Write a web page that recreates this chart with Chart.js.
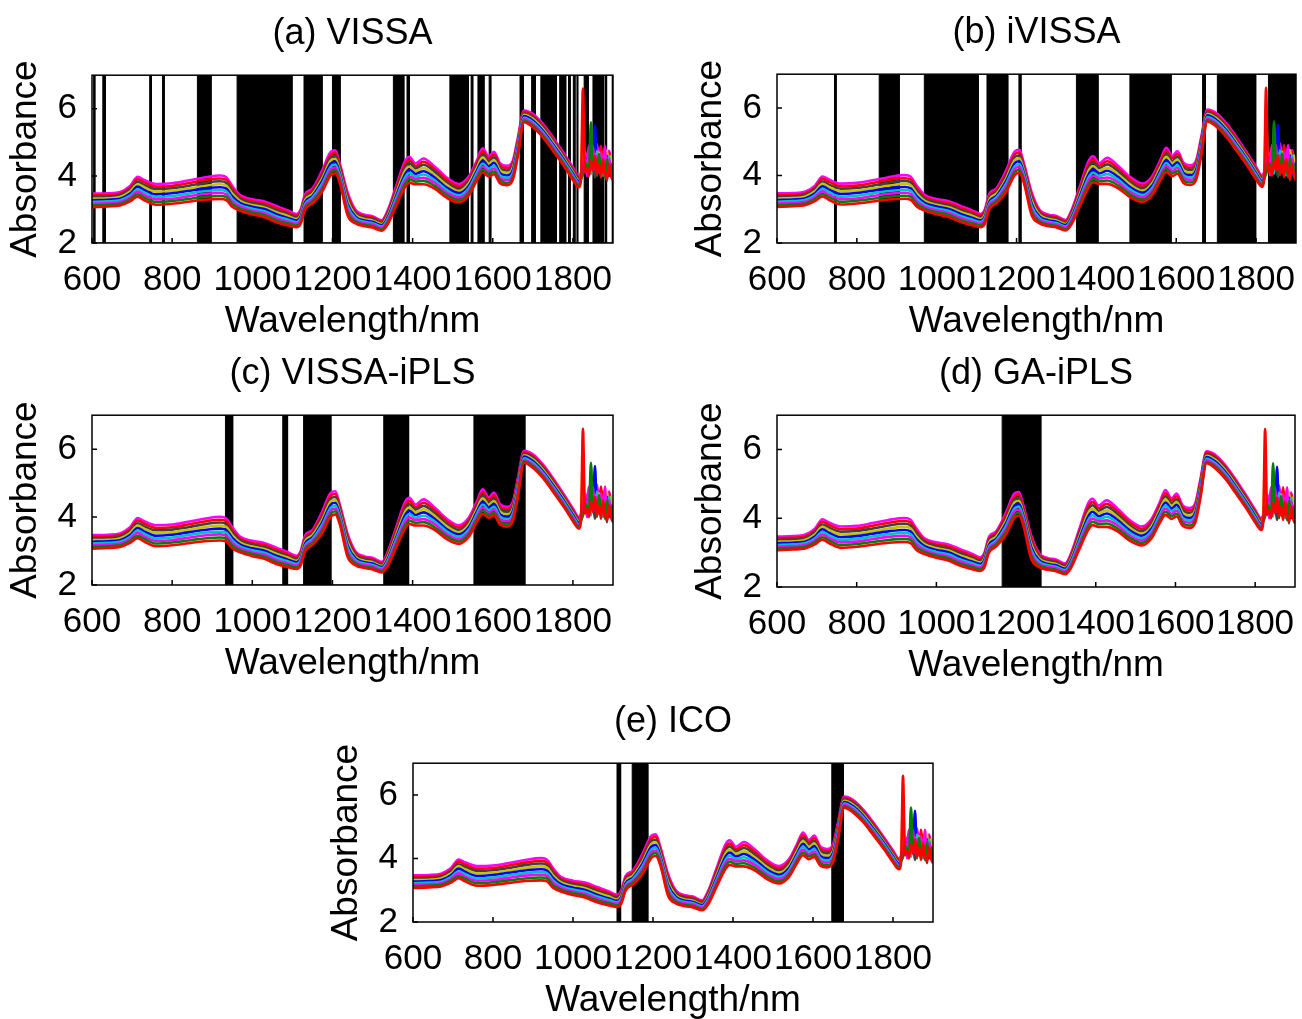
<!DOCTYPE html>
<html>
<head>
<meta charset="utf-8">
<script src="https://cdn.jsdelivr.net/npm/chart.js@4.4.1/dist/chart.umd.min.js"></script>
<style>
html, body { margin: 0; padding: 0; background: #fff; overflow: hidden; width: 1302px; height: 1019px; }
canvas { position: absolute; }
</style>
</head>
<body>
<script>
// wavelengths (nm) shared by all spectra
var wavelengths = [600, 640, 670, 695, 714, 730, 760, 800, 840, 880,
  920, 935, 950, 970, 1000, 1030, 1060, 1090, 1110, 1120,
  1132, 1150, 1174, 1196, 1207, 1218, 1238, 1258, 1280, 1300,
  1323, 1338, 1358, 1382, 1392, 1407, 1427, 1455, 1485, 1515,
  1540, 1560, 1575, 1590, 1603, 1618, 1635, 1650, 1662, 1678,
  1700, 1725, 1750, 1780, 1800, 1815,
  1820, 1825, 1830, 1835, 1840, 1845, 1850, 1855, 1860, 1865, 1870, 1875, 1880, 1885, 1890, 1895, 1900];

// absorbance of the samples, from lowest to highest
var spec1 = [3.07,3.09,3.12,3.24,3.38,3.28,3.14,3.17,3.23,3.29, 3.31,3.28,3.08,2.96,2.85,2.77,2.62,2.52,2.47,2.56,
  3.00,3.18,3.52,4.02,4.08,3.80,2.82,2.58,2.50,2.46, 2.37,2.56,3.08,3.68,3.80,3.75,3.75,3.62,3.35,3.21,
  3.42,3.85,4.10,3.98,4.05,3.78,3.72,3.88,4.55,5.60, 5.45,5.15,4.75,4.25,3.88,3.66,
  3.85,6.60,4.10,4.25,4.00,4.45,4.15,4.60,4.05,4.35,3.95,4.50,4.10,3.90,4.35,4.00,3.85];
var spec2 = [3.12,3.14,3.17,3.30,3.45,3.36,3.22,3.25,3.31,3.37, 3.40,3.37,3.16,3.02,2.91,2.83,2.68,2.58,2.52,2.61,
  3.06,3.24,3.60,4.11,4.17,3.87,2.91,2.63,2.54,2.50, 2.41,2.61,3.15,3.78,3.90,3.83,3.85,3.70,3.43,3.28,
  3.49,3.93,4.19,4.06,4.13,3.86,3.79,3.95,4.62,5.64, 5.50,5.20,4.80,4.30,3.93,3.70,
  3.90,4.05,4.40,4.30,4.15,5.60,4.20,4.55,4.00,4.65,4.20,4.40,3.95,4.50,4.10,4.30,3.90];
var spec3 = [3.17,3.19,3.22,3.36,3.53,3.43,3.30,3.32,3.39,3.46, 3.49,3.45,3.24,3.08,2.96,2.89,2.74,2.63,2.57,2.67,
  3.12,3.29,3.68,4.20,4.25,3.95,2.99,2.68,2.59,2.55, 2.45,2.67,3.23,3.88,3.99,3.91,3.94,3.79,3.50,3.35,
  3.56,4.00,4.28,4.13,4.22,3.93,3.87,4.02,4.69,5.69, 5.55,5.25,4.85,4.34,3.97,3.75,
  3.95,4.20,4.60,4.00,4.75,4.30,4.90,4.20,4.60,4.10,4.70,4.25,4.80,4.10,4.50,4.20,4.00];
var spec4 = [3.22,3.24,3.27,3.41,3.60,3.51,3.37,3.40,3.47,3.54, 3.57,3.54,3.31,3.13,3.02,2.95,2.80,2.69,2.62,2.72,
  3.17,3.35,3.76,4.28,4.34,4.02,3.08,2.73,2.63,2.59, 2.49,2.72,3.30,3.97,4.09,3.98,4.04,3.87,3.58,3.42,
  3.63,4.08,4.37,4.21,4.30,4.01,3.94,4.09,4.76,5.73, 5.60,5.30,4.90,4.39,4.02,3.79,
  3.90,4.30,4.50,4.15,4.40,4.05,4.60,4.30,4.75,4.20,4.50,4.00,4.45,4.20,4.60,4.10,4.30];
var spec5 = [3.27,3.29,3.32,3.47,3.68,3.58,3.45,3.48,3.55,3.62, 3.66,3.62,3.39,3.19,3.08,3.01,2.86,2.74,2.67,2.77,
  3.23,3.40,3.84,4.37,4.42,4.09,3.16,2.78,2.67,2.63, 2.53,2.77,3.37,4.07,4.19,4.06,4.14,3.95,3.65,3.49,
  3.70,4.15,4.46,4.28,4.39,4.08,4.01,4.17,4.83,5.78, 5.65,5.35,4.95,4.44,4.07,3.83,
  3.95,4.15,4.35,4.50,4.10,4.40,4.25,5.50,4.15,4.30,4.05,4.50,4.20,4.60,4.00,4.35,4.10];
var spec6 = [3.32,3.33,3.37,3.53,3.75,3.66,3.53,3.55,3.62,3.70, 3.75,3.71,3.47,3.25,3.13,3.06,2.92,2.80,2.71,2.82,
  3.29,3.46,3.91,4.46,4.51,4.16,3.25,2.83,2.71,2.67, 2.56,2.82,3.44,4.17,4.28,4.14,4.23,4.03,3.73,3.55,
  3.77,4.23,4.55,4.36,4.47,4.16,4.08,4.24,4.89,5.82, 5.70,5.40,5.00,4.48,4.11,3.87,
  4.00,5.80,4.35,4.40,4.20,4.60,4.30,4.50,4.15,4.70,4.30,4.55,4.10,4.75,4.30,4.60,4.05];
var spec7 = [3.37,3.38,3.42,3.59,3.82,3.73,3.61,3.63,3.70,3.79, 3.84,3.79,3.55,3.31,3.19,3.12,2.98,2.85,2.76,2.88,
  3.35,3.51,3.99,4.55,4.59,4.24,3.33,2.88,2.76,2.72, 2.60,2.88,3.52,4.27,4.38,4.22,4.33,4.12,3.80,3.62,
  3.84,4.30,4.64,4.43,4.55,4.23,4.16,4.31,4.96,5.86, 5.75,5.45,5.05,4.53,4.16,3.92,
  4.00,4.20,4.45,4.10,4.55,4.25,4.40,3.95,4.50,4.20,4.65,4.10,4.40,3.85,4.50,4.20,4.00];
var spec8 = [3.42,3.43,3.47,3.64,3.90,3.81,3.68,3.70,3.78,3.87, 3.92,3.88,3.62,3.36,3.24,3.18,3.04,2.91,2.81,2.93,
  3.40,3.57,4.07,4.63,4.68,4.31,3.42,2.93,2.80,2.76, 2.64,2.93,3.59,4.36,4.47,4.29,4.42,4.20,3.88,3.69,
  3.91,4.38,4.73,4.51,4.64,4.31,4.23,4.38,5.03,5.91, 5.80,5.50,5.10,4.57,4.20,3.96,
  4.05,4.30,4.55,4.35,4.70,4.40,4.80,4.30,4.65,4.35,4.90,4.40,4.60,4.25,4.70,4.30,4.15];
var spec9 = [3.47,3.48,3.52,3.70,3.97,3.88,3.76,3.78,3.86,3.95, 4.01,3.96,3.70,3.42,3.30,3.24,3.10,2.96,2.86,2.98,
  3.46,3.62,4.15,4.72,4.76,4.38,3.50,2.98,2.84,2.80, 2.68,2.98,3.66,4.46,4.57,4.37,4.52,4.28,3.95,3.76,
  3.98,4.45,4.82,4.58,4.72,4.38,4.30,4.45,5.10,5.95, 5.85,5.55,5.15,4.62,4.25,4.00,
  4.10,4.40,4.70,4.45,4.90,4.50,4.85,4.40,4.95,4.50,4.80,4.35,4.90,4.40,4.75,4.50,4.30];

var spectra = [spec1, spec2, spec3, spec4, spec5, spec6, spec7, spec8, spec9];
var lineColors = ['#ff0000', '#008000', '#ff00ff', '#00c0c0', '#0000ff', '#c8c000', '#404040', '#ff0000', '#ff00ff'];

var xTicks = [600, 800, 1000, 1200, 1400, 1600, 1800];
var yTicks = [2, 4, 6];

// selected wavelength intervals [from, to] in nm
var bandsA = [[604,607],[627,633],[744,748],[776,780],[863,897],[962,1099],[1129,1174],[1200,1219],[1352,1378],[1386,1392],
  [1493,1539],[1546,1550],[1563,1578],[1591,1595],[1668,1676],[1697,1706],[1720,1759],[1767,1782],[1789,1793],[1801,1805],
  [1810,1812],[1828,1838],[1850,1876],[1880,1884],[1898,1900]];
var bandsB = [[744,748],[856,906],[969,1104],[1126,1178],[1206,1211],[1350,1404],[1484,1587],[1666,1673],[1703,1799],[1831,1900]];
var bandsC = [[933,951],[1076,1088],[1128,1196],[1328,1390],[1553,1680]];
var bandsD = [[1165,1262]];
var bandsE = [[1110,1119],[1148,1187],[1647,1676]];

Chart.defaults.font.family = "'Liberation Sans', Arial, Helvetica, sans-serif";
Chart.defaults.color = '#000';

// box round the plot + inward ticks, matlab style
var frame = {
  id: 'frame',
  afterDatasetsDraw: function(chart) {
    var ctx = chart.ctx, a = chart.chartArea;
    var xs = chart.scales.x, ys = chart.scales.y;
    ctx.save();
    ctx.strokeStyle = '#000';
    ctx.lineWidth = 1.5;
    ctx.strokeRect(a.left, a.top, a.right - a.left, a.bottom - a.top);
    ctx.beginPath();
    xTicks.forEach(function(v) {
      var px = xs.getPixelForValue(v);
      ctx.moveTo(px, a.bottom);
      ctx.lineTo(px, a.bottom - 5);
    });
    yTicks.forEach(function(v) {
      var py = ys.getPixelForValue(v);
      ctx.moveTo(a.left, py);
      ctx.lineTo(a.left + 5, py);
    });
    ctx.stroke();
    ctx.restore();
  }
};

function makePanel(p) {
  var cv = document.createElement('canvas');
  cv.width = 92 + p.w + 3;
  cv.height = 75 + p.h + 105;
  cv.style.left = (p.x - 92) + 'px';
  cv.style.top = (p.y - 75) + 'px';
  document.body.appendChild(cv);

  var datasets = spectra.map(function(s, i) {
    return {
      data: s.map(function(v, j) { return {x: wavelengths[j], y: v}; }),
      borderColor: lineColors[i],
      borderWidth: 2.6,
      pointRadius: 0,
      cubicInterpolationMode: 'monotone',
      fill: false,
      order: 0
    };
  });

  var pts = [];
  p.bands.forEach(function(b) {
    pts.push({x: b[0], y: 2}, {x: b[0], y: 7}, {x: b[1], y: 7}, {x: b[1], y: 2});
  });
  datasets.push({
    data: pts,
    borderColor: '#000',
    borderWidth: 1,
    backgroundColor: '#000',
    fill: 'start',
    pointRadius: 0,
    tension: 0,
    order: 1
  });

  new Chart(cv, {
    type: 'line',
    data: { datasets: datasets },
    plugins: [frame],
    options: {
      responsive: false,
      animation: false,
      events: [],
      layout: { padding: { left: 0, right: 3, top: 0, bottom: 0 } },
      plugins: {
        legend: { display: false },
        tooltip: { enabled: false },
        title: {
          display: true,
          text: p.title,
          fullSize: false,
          color: '#000',
          font: { size: 36, weight: 'normal' },
          padding: { top: 12, bottom: 20 }
        }
      },
      scales: {
        x: {
          type: 'linear',
          min: 600,
          max: 1900,
          grid: { display: false },
          border: { display: false },
          afterBuildTicks: function(s) { s.ticks = xTicks.map(function(v) { return {value: v}; }); },
          afterFit: function(s) { s.height = 105; s.paddingLeft = 0; s.paddingRight = 0; },
          ticks: {
            autoSkip: false, maxRotation: 0, minRotation: 0, padding: 8, color: '#000', font: { size: 35 },
            callback: function(v) { return String(v); }
          },
          title: { display: true, text: 'Wavelength/nm', color: '#000', font: { size: 37 }, padding: { top: 0, bottom: 4 } }
        },
        y: {
          type: 'linear',
          min: 2,
          max: 7,
          grid: { display: false },
          border: { display: false },
          afterBuildTicks: function(s) { s.ticks = yTicks.map(function(v) { return {value: v}; }); },
          afterFit: function(s) { s.width = 92; s.paddingTop = 0; s.paddingBottom = 0; },
          ticks: { padding: 7, color: '#000', font: { size: 35 }, callback: function(v) { return String(v); } },
          title: { display: true, text: 'Absorbance', color: '#000', font: { size: 37 }, padding: { top: 4, bottom: 0 } }
        }
      }
    }
  });
}

makePanel({ x: 92, y: 75, w: 521, h: 168, title: '(a) VISSA', bands: bandsA });
makePanel({ x: 777, y: 74, w: 519, h: 169, title: '(b) iVISSA', bands: bandsB });
makePanel({ x: 92, y: 415, w: 521, h: 170, title: '(c) VISSA-iPLS', bands: bandsC });
makePanel({ x: 777, y: 415, w: 518, h: 172, title: '(d) GA-iPLS', bands: bandsD });
makePanel({ x: 413, y: 763, w: 520, h: 159, title: '(e) ICO', bands: bandsE });
</script>
</body>
</html>
